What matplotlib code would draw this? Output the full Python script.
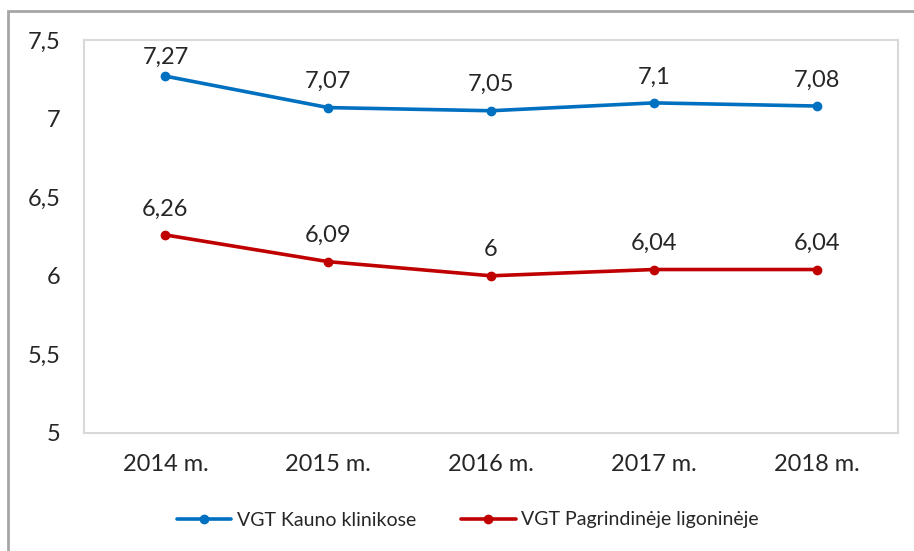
import matplotlib
matplotlib.use('Agg')
import matplotlib.pyplot as plt
from matplotlib.patches import Rectangle

plt.rcParams['font.family'] = ['Lato', 'DejaVu Sans']

# 数据
years = ['2014 m.', '2015 m.', '2016 m.', '2017 m.', '2018 m.']
kauno = [7.27, 7.07, 7.05, 7.1, 7.08]
pagrind = [6.26, 6.09, 6.0, 6.04, 6.04]
kauno_labels = ['7,27', '7,07', '7,05', '7,1', '7,08']
pagrind_labels = ['6,26', '6,09', '6', '6,04', '6,04']
y_ticks = [5, 5.5, 6, 6.5, 7, 7.5]
y_tick_labels = ['5', '5,5', '6', '6,5', '7', '7,5']

fig = plt.figure(figsize=(9.14, 5.51), dpi=100)
ax = fig.add_axes([84 / 914, 1 - 433 / 551, 814 / 914, 393 / 551])

x = list(range(len(years)))
ax.plot(x, kauno, color='#0070C0', linewidth=2.6, marker='o', markersize=6,
        label='VGT Kauno klinikose', solid_capstyle='round')
ax.plot(x, pagrind, color='#C00000', linewidth=2.6, marker='o', markersize=6,
        label='VGT Pagrindinėje ligoninėje', solid_capstyle='round')

ax.set_xlim(-0.5, 4.5)
ax.set_ylim(5, 7.5)

# 数据标签（靠近顶部时向下收，保持在绘图区内）
y_min, y_max = ax.get_ylim()
ax_h_pt = ax.get_position().height * fig.get_figheight() * 72


def add_labels(values, labels):
    for xi, v, t in zip(x, values, labels):
        dist_pt = (y_max - v) / (y_max - y_min) * ax_h_pt
        off = min(14, dist_pt - 17)
        ax.annotate(t, (xi, v), xytext=(0, off), textcoords='offset points',
                    ha='center', va='baseline', fontsize=17, color='#262626')


add_labels(kauno, kauno_labels)
add_labels(pagrind, pagrind_labels)

ax.set_xticks(x)
ax.set_xticklabels(years)
ax.set_yticks(y_ticks)
ax.set_yticklabels(y_tick_labels)
ax.tick_params(axis='both', length=0, labelsize=17, colors='#262626')
ax.tick_params(axis='x', pad=15)
ax.tick_params(axis='y', pad=17)
for s in ax.spines.values():
    s.set_color('#D9D9D9')
    s.set_linewidth(1.5)

leg = fig.legend(loc='center', bbox_to_anchor=(468 / 914, 1 - 520 / 551), ncol=2,
                 frameon=False, fontsize=14, handlelength=2.8, columnspacing=2.3,
                 handletextpad=0.3)
for t in leg.get_texts():
    t.set_color('#262626')

# 外框
fig.patches.append(Rectangle((8 / 914, -0.1), 1.2, 1 - 11 / 551 + 0.1,
                             transform=fig.transFigure, fill=False,
                             edgecolor='#A6A6A6', linewidth=2))

fig.savefig('out.png', dpi=100)
